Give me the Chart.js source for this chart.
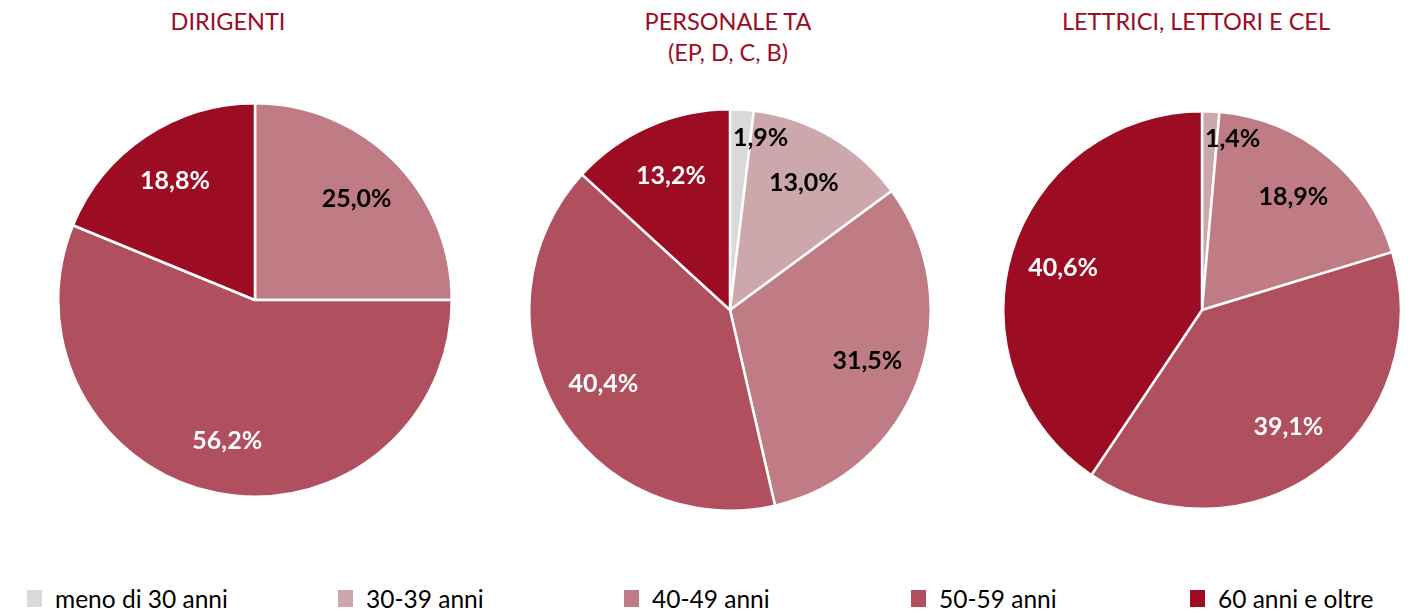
<!DOCTYPE html>
<html>
<head>
<meta charset="utf-8">
<script src="https://cdn.jsdelivr.net/npm/chart.js@4"></script>
<style>
  body { margin: 0; width: 1420px; height: 614px; background: #fff; position: relative; overflow: hidden; font-family: Lato, "Noto Sans", sans-serif; }
  .title { position: absolute; color: #9c0c23; font-size: 23.5px; line-height: 31px; text-align: center; width: 400px; }
  .pie { position: absolute; }
  .legend { position: absolute; top: 583px; left: 0; width: 1420px; height: 30px; }
  .item { position: absolute; top: 0; height: 30px; display: flex; align-items: center; font-size: 24.5px; color: #000; white-space: nowrap; }
  .item span.box { display: inline-block; width: 15px; height: 17px; margin-right: 13px; }
</style>
</head>
<body>
<div class="title" style="left:28px;top:6px">DIRIGENTI</div>
<div class="title" style="left:528px;top:6px">PERSONALE TA<br>(EP, D, C, B)</div>
<div class="title" style="left:996px;top:6px">LETTRICI, LETTORI E CEL</div>

<div class="pie" style="left:57px;top:102px;width:396px;height:396px"><canvas id="c1"></canvas></div>
<div class="pie" style="left:528px;top:108px;width:404px;height:404px"><canvas id="c2"></canvas></div>
<div class="pie" style="left:1002px;top:110px;width:400px;height:400px"><canvas id="c3"></canvas></div>

<div class="legend" id="legend"></div>

<script>
const categories = ['meno di 30 anni', '30-39 anni', '40-49 anni', '50-59 anni', '60 anni e oltre'];
const colors = ['#d9d9d9', '#cca8ad', '#c07c84', '#b0505f', '#9c0c23'];
const labelColors = ['#000', '#000', '#000', '#fff', '#fff'];

const dirigenti = [0, 0, 25.0, 56.2, 18.8];
const personaleTA = [1.9, 13.0, 31.5, 40.4, 13.2];
const lettori = [0, 1.4, 18.9, 39.1, 40.6];

const legendX = [27, 338, 624, 911, 1190];

const sliceLabels = {
  id: 'sliceLabels',
  afterDatasetsDraw(chart) {
    const ctx = chart.ctx;
    const ds = chart.data.datasets[0];
    const total = ds.data.reduce((a, b) => a + b, 0);
    ctx.save();
    ctx.font = 'bold 25px Lato, "Noto Sans", sans-serif';
    ctx.textBaseline = 'middle';
    chart.getDatasetMeta(0).data.forEach((arc, i) => {
      const v = ds.data[i];
      if (!v) return;
      const p = arc.getProps(['x', 'y', 'startAngle', 'endAngle', 'outerRadius'], true);
      const mid = (p.startAngle + p.endAngle) / 2;
      const small = v / total < 0.03;
      const r = p.outerRadius * (small ? 0.86 : 0.73);
      let tx = p.x + Math.cos(mid) * r;
      const ty = p.y + Math.sin(mid) * r;
      ctx.fillStyle = labelColors[i];
      if (small) {
        ctx.textAlign = 'left';
        tx = p.x + 3;
      } else {
        ctx.textAlign = 'center';
      }
      ctx.fillText(v.toFixed(1).replace('.', ',') + '%', tx, ty);
    });
    ctx.restore();
  }
};

function makePie(id, values) {
  new Chart(document.getElementById(id), {
    type: 'pie',
    data: {
      labels: categories,
      datasets: [{
        data: values,
        backgroundColor: colors,
        borderColor: '#ffffff',
        borderWidth: 2.5
      }]
    },
    options: {
      responsive: true,
      maintainAspectRatio: false,
      animation: false,
      layout: { padding: 0 },
      plugins: {
        legend: { display: false },
        tooltip: { enabled: false }
      }
    },
    plugins: [sliceLabels]
  });
}

makePie('c1', dirigenti);
makePie('c2', personaleTA);
makePie('c3', lettori);

const legend = document.getElementById('legend');
categories.forEach((c, i) => {
  const el = document.createElement('div');
  el.className = 'item';
  el.style.left = legendX[i] + 'px';
  el.innerHTML = '<span class="box" style="background:' + colors[i] + '"></span>' + c;
  legend.appendChild(el);
});
</script>
</body>
</html>
